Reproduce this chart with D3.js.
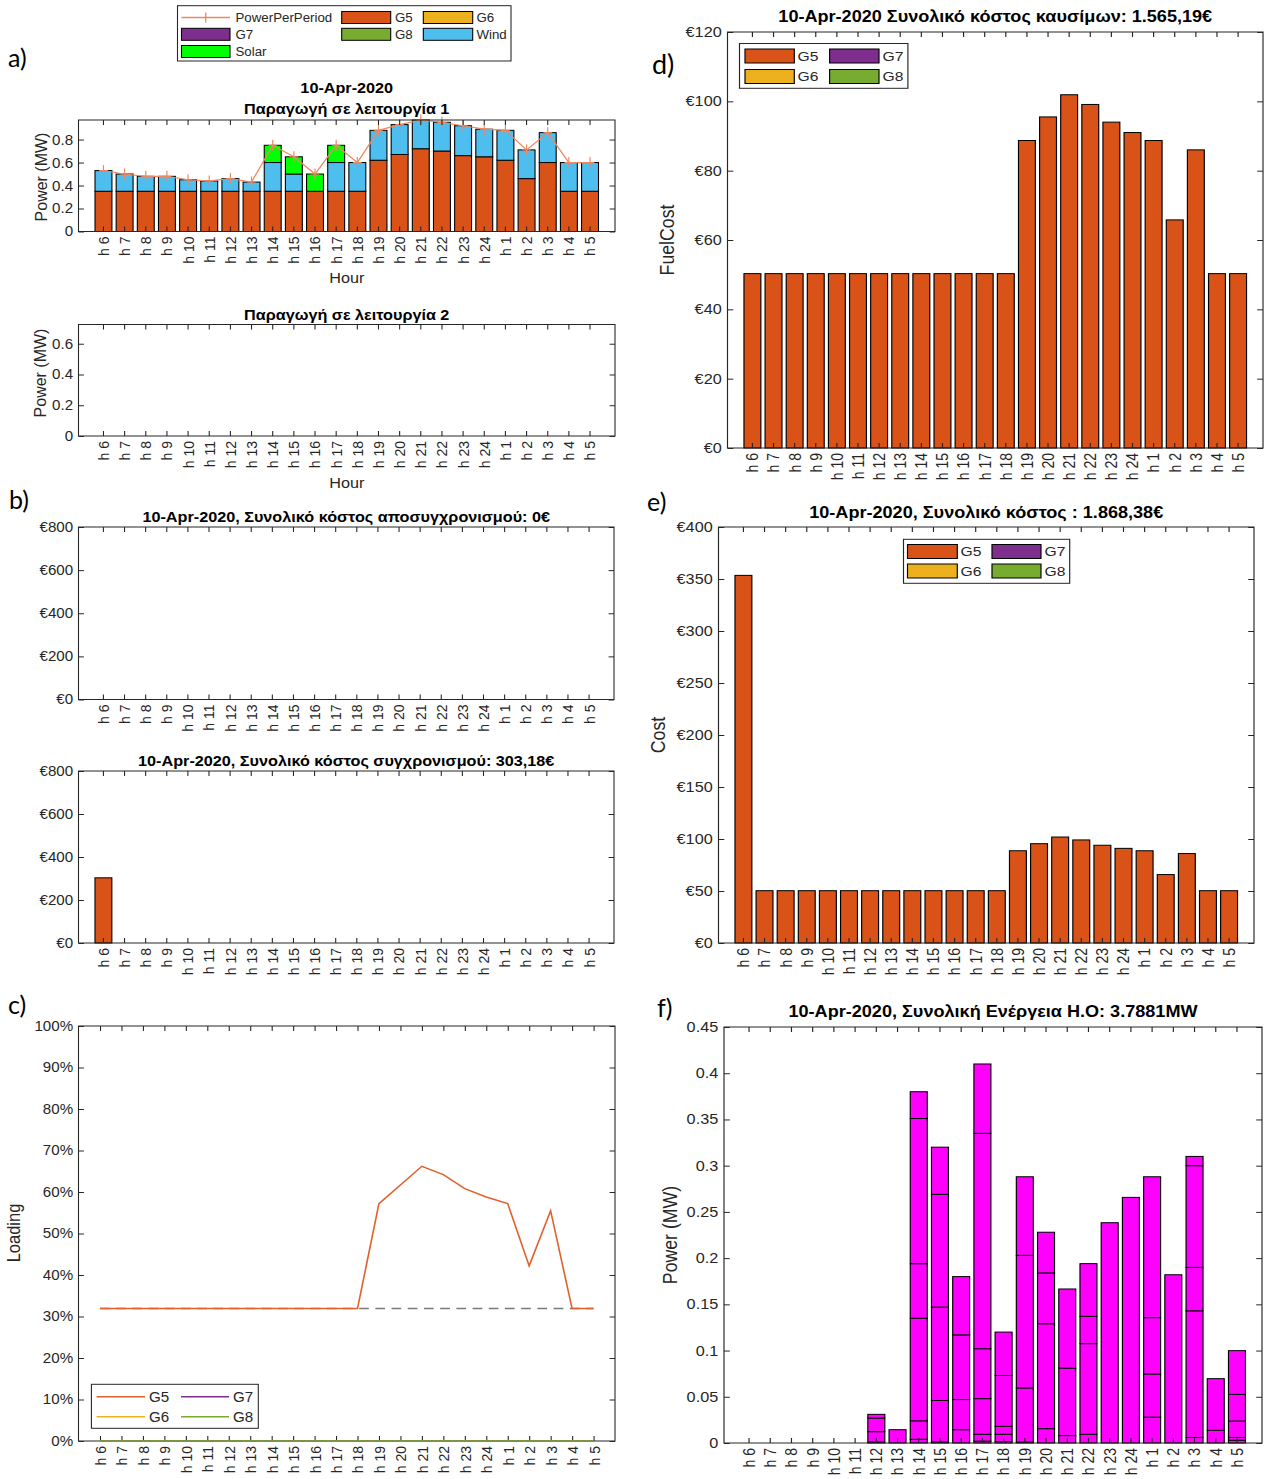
<!DOCTYPE html>
<html><head><meta charset="utf-8">
<script src="https://cdn.jsdelivr.net/npm/d3@7"></script>
<style>
body{margin:0;background:#fff;}
svg text{font-family:"Liberation Sans",Arial,sans-serif;}
</style></head>
<body><svg id="fig" width="1266" height="1479"></svg>
<script>
// ---- categories ----
const hours = ["h 6","h 7","h 8","h 9","h 10","h 11","h 12","h 13","h 14","h 15","h 16","h 17","h 18","h 19","h 20","h 21","h 22","h 23","h 24","h 1","h 2","h 3","h 4","h 5"];

// ---- a) production in operating mode 1 (MW) ----
const g5Power    = [0.35,0.35,0.35,0.35,0.35,0.35,0.35,0.35,0.35,0.35,0.35,0.35,0.35,0.62,0.67,0.72,0.70,0.66,0.65,0.62,0.46,0.60,0.35,0.35];
const g6Power    = new Array(24).fill(0);
const g7Power    = new Array(24).fill(0);
const g8Power    = new Array(24).fill(0);
const windPower  = [0.18,0.15,0.13,0.13,0.10,0.09,0.11,0.08,0.25,0.15,0.00,0.25,0.25,0.26,0.26,0.25,0.25,0.26,0.24,0.26,0.25,0.26,0.25,0.25];
const solarPower = [0,0,0,0,0,0,0,0,0.15,0.15,0.15,0.15,0,0,0,0,0,0,0,0,0,0,0,0];
const powerPerPeriod = [0.53,0.50,0.48,0.48,0.45,0.44,0.46,0.43,0.75,0.65,0.50,0.75,0.60,0.88,0.93,0.97,0.95,0.92,0.89,0.88,0.71,0.86,0.60,0.60];

// ---- b) shutdown / start-up cost (EUR) ----
const shutdownCost = new Array(24).fill(0);
const startupCost  = [303.18,0,0,0,0,0,0,0,0,0,0,0,0,0,0,0,0,0,0,0,0,0,0,0];

// ---- c) loading of G5 (%) ----
const g5Loading  = [31.9,31.9,31.9,31.9,31.9,31.9,31.9,31.9,31.9,31.9,31.9,31.9,31.9,57.2,61.7,66.2,64.2,60.8,58.8,57.2,42.2,55.5,31.9,31.9];
const otherLoading = new Array(24).fill(0);
const minLoading = 31.9;

// ---- d) fuel cost (EUR) ----
const fuelCost  = [50.3,50.3,50.3,50.3,50.3,50.3,50.3,50.3,50.3,50.3,50.3,50.3,50.3,88.7,95.5,101.9,99.1,94.0,91.0,88.7,65.8,86.0,50.3,50.3];

// ---- e) total cost (EUR) ----
const totalCost = [353.48,50.3,50.3,50.3,50.3,50.3,50.3,50.3,50.3,50.3,50.3,50.3,50.3,88.7,95.5,101.9,99.1,94.0,91.0,88.7,65.8,86.0,50.3,50.3];

// ---- f) flexible-load energy per hour, stacked by load (MW) ----
const hoLoads = [
  [],[],[],[],[],[],
  [0.001,0.0113,0.0147,0.004],
  [0.0144],
  [0.004,0.020,0.111,0.059,0.157,0.029],
  [0.001,0.045,0.101,0.122,0.051],
  [0.0144,0.0326,0.070,0.063],
  [0.002,0.0074,0.0386,0.054,0.233,0.075],
  [0.0015,0.0079,0.0086,0.055,0.047],
  [0.001,0.0585,0.1435,0.085],
  [0.0155,0.1135,0.055,0.044],
  [0.008,0.073,0.0856],
  [0.0094,0.0981,0.0295,0.057],
  [0.2383],
  [0.2657],
  [0.028,0.0466,0.061,0.1524],
  [0.182],
  [0.006,0.137,0.047,0.110,0.010],
  [0.0137,0.0559],
  [0.003,0.003,0.0178,0.0288,0.0473]
];

// ---- tick labels ----
const powerTicksA1 = [0,0.2,0.4,0.6,0.8];
const powerTicksA2 = [0,0.2,0.4,0.6];
const euroTicks800 = [0,200,400,600,800];
const euroTicks120 = [0,20,40,60,80,100,120];
const euroTicks400 = [0,50,100,150,200,250,300,350,400];
const pctTicks     = [0,10,20,30,40,50,60,70,80,90,100];
const powerTicksF  = [0,0.05,0.1,0.15,0.2,0.25,0.3,0.35,0.4,0.45];

// ---- colours ----
const C = {G5:"#D95319", G6:"#EDB120", G7:"#7E2F8E", G8:"#77AC30", Wind:"#4DBEEE", Solar:"#00FF00", PPP:"#F0875F", HO:"#FF00FF", axis:"#262626"};

const svg = d3.select("#fig");
const TL = 5;

function makePanel(p) {
  const g = svg.append("g").attr("transform", `translate(${p.x0},${p.y0}) scale(${p.sx},1)`);
  const iw = p.w / p.sx, ih = p.h;
  const y = d3.scaleLinear().domain(p.yDomain).range([ih, 0]);
  const x = p.line
    ? d3.scalePoint().domain(hours).range([0, iw]).padding(1)
    : d3.scaleBand().domain(hours).range([0, iw]).paddingInner(0.2).paddingOuter(0.78);
  return {g, x, y, iw, ih, p};
}
const ix = (P, px) => (px - P.p.x0) / P.p.sx;
const iy = (P, py) => py - P.p.y0;

function drawAxes(P) {
  const {g, x, y, iw, ih, p} = P;
  const strip = s => s.select(".domain").remove();
  const bx = g.append("g").attr("transform", `translate(0,${ih})`).attr("color", C.axis)
    .call(d3.axisBottom(x).tickSizeInner(-TL).tickSizeOuter(0)).call(strip);
  bx.selectAll("text").attr("transform", "rotate(-90)").attr("text-anchor", "end")
    .attr("x", -5).attr("y", 0).attr("dy", "0.36em")
    .style("font-size", p.tickFont + "px").style("font-family", "Liberation Sans, Arial, sans-serif").attr("fill", C.axis);
  g.append("g").attr("color", C.axis)
    .call(d3.axisTop(x).tickSizeInner(-TL).tickSizeOuter(0).tickFormat(() => "")).call(strip);
  const ly = g.append("g").attr("color", C.axis)
    .call(d3.axisLeft(y).tickValues(p.yTicks).tickFormat(p.yFmt).tickSizeInner(-TL).tickSizeOuter(0).tickPadding(5)).call(strip);
  ly.selectAll("text").style("font-size", p.tickFont + "px").style("font-family", "Liberation Sans, Arial, sans-serif").attr("fill", C.axis);
  g.append("g").attr("transform", `translate(${iw},0)`).attr("color", C.axis)
    .call(d3.axisRight(y).tickValues(p.yTicks).tickSizeInner(-TL).tickSizeOuter(0).tickFormat(() => "")).call(strip);
  g.append("rect").attr("width", iw).attr("height", ih).attr("fill", "none").attr("stroke", C.axis).attr("stroke-width", 1);
}

function titles(P, lines) {
  lines.forEach(l => P.g.append("text").attr("x", P.iw / 2).attr("y", iy(P, l.y)).attr("text-anchor", "middle")
    .style("font-size", l.size + "px").style("font-weight", "bold").attr("fill", "#000").text(l.text));
}
function ylabel(P, text, px, py, size) {
  P.g.append("text").attr("transform", `translate(${ix(P, px)},${iy(P, py)}) rotate(-90)`)
    .attr("text-anchor", "middle").attr("dy", "0.35em").style("font-size", size + "px").attr("fill", C.axis).text(text);
}
function xlabel(P, text, py, size) {
  P.g.append("text").attr("x", P.iw / 2).attr("y", iy(P, py)).attr("text-anchor", "middle")
    .style("font-size", size + "px").attr("fill", C.axis).text(text);
}
function legend(P, box, items, font) {
  const g = P.g;
  g.append("rect").attr("x", ix(P, box[0])).attr("y", iy(P, box[1]))
    .attr("width", (box[2] - box[0]) / P.p.sx).attr("height", box[3] - box[1])
    .attr("fill", "#fff").attr("stroke", C.axis).attr("stroke-width", 1);
  items.forEach(it => {
    const x1 = ix(P, it.x1), x2 = ix(P, it.x2), cy = iy(P, it.cy);
    if (it.type === "rect") {
      g.append("rect").attr("x", x1).attr("y", cy - it.hh).attr("width", x2 - x1).attr("height", 2 * it.hh)
        .attr("fill", it.color).attr("stroke", "#000").attr("stroke-width", 1);
    } else {
      g.append("line").attr("x1", x1).attr("x2", x2).attr("y1", cy).attr("y2", cy)
        .attr("stroke", it.color).attr("stroke-width", 1.5);
      if (it.plus) g.append("line").attr("x1", (x1 + x2) / 2).attr("x2", (x1 + x2) / 2)
        .attr("y1", cy - 5).attr("y2", cy + 5).attr("stroke", it.color).attr("stroke-width", 1.2);
    }
    g.append("text").attr("x", ix(P, it.tx)).attr("y", cy).attr("dy", "0.35em")
      .style("font-size", font + "px").attr("fill", C.axis).text(it.label);
  });
}
function stackedBars(P, layers) {
  const {g, x, y} = P;
  const base = new Array(24).fill(0);
  layers.forEach(L => {
    L.values.forEach((v, i) => {
      if (v > 0) {
        g.append("rect").attr("x", x(hours[i])).attr("width", x.bandwidth())
          .attr("y", y(base[i] + v)).attr("height", y(base[i]) - y(base[i] + v))
          .attr("fill", L.color).attr("stroke", "#000").attr("stroke-width", 1);
      }
      base[i] += v;
    });
  });
}
function panelLabel(text, px, py, size) {
  svg.append("text").attr("x", px).attr("y", py).style("font-family", "Lato, 'Open Sans', sans-serif")
    .style("font-size", size + "px").attr("fill", "#000").text(text);
}

const euro = d => "€" + d;
const num = d => d3.format("~g")(d);

// ===== a) operating mode 1 =====
const A1 = makePanel({x0: 78.5, y0: 120, w: 536.5, h: 111.5, sx: 1.08, yDomain: [0, 0.97], yTicks: powerTicksA1, yFmt: num, tickFont: 14});
stackedBars(A1, [
  {values: g5Power, color: C.G5}, {values: g6Power, color: C.G6}, {values: g7Power, color: C.G7},
  {values: g8Power, color: C.G8}, {values: windPower, color: C.Wind}, {values: solarPower, color: C.Solar}
]);
{
  const cx = d => A1.x(d) + A1.x.bandwidth() / 2;
  A1.g.append("path").datum(powerPerPeriod)
    .attr("d", d3.line().x((d, i) => cx(hours[i])).y(d => A1.y(d)))
    .attr("fill", "none").attr("stroke", C.PPP).attr("stroke-width", 1.2);
  powerPerPeriod.forEach((v, i) => {
    const xx = cx(hours[i]), yy = A1.y(v);
    A1.g.append("line").attr("x1", xx - 4).attr("x2", xx + 4).attr("y1", yy).attr("y2", yy).attr("stroke", C.PPP).attr("stroke-width", 1.1);
    A1.g.append("line").attr("x1", xx).attr("x2", xx).attr("y1", yy - 5.5).attr("y2", yy + 5.5).attr("stroke", C.PPP).attr("stroke-width", 1.1);
  });
}
drawAxes(A1);
titles(A1, [{text: "10-Apr-2020", y: 93, size: 15}, {text: "Παραγωγή σε λειτουργία 1", y: 114, size: 15}]);
ylabel(A1, "Power (MW)", 41, 177, 16);
xlabel(A1, "Hour", 283, 15);
legend(A1, [177.5, 5.7, 511, 61], [
  {type: "line", plus: true, color: C.PPP, label: "PowerPerPeriod", x1: 181.5, x2: 230, cy: 17.5, tx: 235.5},
  {type: "rect", color: C.G5, label: "G5", x1: 341.7, x2: 390.7, cy: 17.5, tx: 395, hh: 6},
  {type: "rect", color: C.G6, label: "G6", x1: 423.3, x2: 472.7, cy: 17.5, tx: 476.5, hh: 6},
  {type: "rect", color: C.G7, label: "G7", x1: 181.5, x2: 230, cy: 34.3, tx: 235.5, hh: 6},
  {type: "rect", color: C.G8, label: "G8", x1: 341.7, x2: 390.7, cy: 34.3, tx: 395, hh: 6},
  {type: "rect", color: C.Wind, label: "Wind", x1: 423.3, x2: 472.7, cy: 34.3, tx: 476.5, hh: 6},
  {type: "rect", color: C.Solar, label: "Solar", x1: 181.5, x2: 230, cy: 51.5, tx: 235.5, hh: 6}
], 12.3);

// ===== a) operating mode 2 (no production) =====
const A2 = makePanel({x0: 78.5, y0: 324.5, w: 536.5, h: 111.5, sx: 1.08, yDomain: [0, 0.725], yTicks: powerTicksA2, yFmt: num, tickFont: 14});
drawAxes(A2);
titles(A2, [{text: "Παραγωγή σε λειτουργία 2", y: 320, size: 15}]);
ylabel(A2, "Power (MW)", 40, 373, 16);
xlabel(A2, "Hour", 488, 15);

// ===== b) shutdown cost =====
const B1 = makePanel({x0: 78.5, y0: 527, w: 535.5, h: 172.5, sx: 1.08, yDomain: [0, 800], yTicks: euroTicks800, yFmt: euro, tickFont: 14});
stackedBars(B1, [{values: shutdownCost, color: C.G5}]);
drawAxes(B1);
titles(B1, [{text: "10-Apr-2020, Συνολικό κόστος αποσυγχρονισμού: 0€", y: 521.5, size: 15}]);

// ===== b) start-up cost =====
const B2 = makePanel({x0: 78.5, y0: 771, w: 535.5, h: 172, sx: 1.08, yDomain: [0, 800], yTicks: euroTicks800, yFmt: euro, tickFont: 14});
stackedBars(B2, [{values: startupCost, color: C.G5}]);
drawAxes(B2);
titles(B2, [{text: "10-Apr-2020, Συνολικό κόστος συγχρονισμού: 303,18€", y: 766, size: 15}]);

// ===== c) loading =====
const Cp = makePanel({x0: 78.5, y0: 1026, w: 536.5, h: 415, sx: 1.08, line: true, yDomain: [0, 100], yTicks: pctTicks, yFmt: d => d + "%", tickFont: 14});
drawAxes(Cp);
{
  const ln = d3.line().x((d, i) => Cp.x(hours[i])).y(d => Cp.y(d));
  Cp.g.append("path").datum(hours.map(() => minLoading)).attr("d", ln)
    .attr("fill", "none").attr("stroke", "#7a7a7a").attr("stroke-width", 1.5).attr("stroke-dasharray", "9,6");
  Cp.g.append("path").datum(g5Loading).attr("d", ln).attr("fill", "none").attr("stroke", "#E0622A").attr("stroke-width", 1.5);
  [C.G6, C.G7, C.G8].forEach(col =>
    Cp.g.append("path").datum(otherLoading).attr("d", ln).attr("fill", "none").attr("stroke", col).attr("stroke-width", 1.5));
}
ylabel(Cp, "Loading", 14, 1233, 16.5);
legend(Cp, [91.4, 1384.3, 258.3, 1428.3], [
  {type: "line", color: "#E0622A", label: "G5", x1: 96.6, x2: 145, cy: 1396.7, tx: 149},
  {type: "line", color: C.G7, label: "G7", x1: 181, x2: 229, cy: 1396.7, tx: 233},
  {type: "line", color: C.G6, label: "G6", x1: 96.6, x2: 145, cy: 1416.7, tx: 149},
  {type: "line", color: C.G8, label: "G8", x1: 181, x2: 229, cy: 1416.7, tx: 233}
], 14);

// ===== d) fuel cost =====
const D = makePanel({x0: 727.5, y0: 32, w: 535.5, h: 416, sx: 1.16, yDomain: [0, 120], yTicks: euroTicks120, yFmt: euro, tickFont: 14});
stackedBars(D, [{values: fuelCost, color: C.G5}]);
drawAxes(D);
titles(D, [{text: "10-Apr-2020 Συνολικό κόστος καυσίμων: 1.565,19€", y: 22, size: 15.6}]);
ylabel(D, "FuelCost", 667, 240, 17.7);
legend(D, [739.5, 43.5, 907.9, 88.3], [
  {type: "rect", color: C.G5, label: "G5", x1: 745, x2: 794.3, cy: 56, tx: 797.5, hh: 7},
  {type: "rect", color: C.G7, label: "G7", x1: 829.6, x2: 879, cy: 56, tx: 882.5, hh: 7},
  {type: "rect", color: C.G6, label: "G6", x1: 745, x2: 794.3, cy: 76.5, tx: 797.5, hh: 7},
  {type: "rect", color: C.G8, label: "G8", x1: 829.6, x2: 879, cy: 76.5, tx: 882.5, hh: 7}
], 13.5);

// ===== e) total cost =====
const E = makePanel({x0: 718.5, y0: 527, w: 535.5, h: 416, sx: 1.16, yDomain: [0, 400], yTicks: euroTicks400, yFmt: euro, tickFont: 14});
stackedBars(E, [{values: totalCost, color: C.G5}]);
drawAxes(E);
titles(E, [{text: "10-Apr-2020, Συνολικό κόστος : 1.868,38€", y: 518, size: 15.6}]);
ylabel(E, "Cost", 657.5, 735, 17.7);
legend(E, [903.5, 539.3, 1069.7, 583.3], [
  {type: "rect", color: C.G5, label: "G5", x1: 907.5, x2: 957.3, cy: 551.5, tx: 960.5, hh: 7},
  {type: "rect", color: C.G7, label: "G7", x1: 992, x2: 1041, cy: 551.5, tx: 1044.5, hh: 7},
  {type: "rect", color: C.G6, label: "G6", x1: 907.5, x2: 957.3, cy: 571, tx: 960.5, hh: 7},
  {type: "rect", color: C.G8, label: "G8", x1: 992, x2: 1041, cy: 571, tx: 1044.5, hh: 7}
], 13.5);

// ===== f) flexible-load energy =====
const F = makePanel({x0: 724, y0: 1027, w: 538, h: 416, sx: 1.16, yDomain: [0, 0.45], yTicks: powerTicksF, yFmt: num, tickFont: 14});
hoLoads.forEach((segs, i) => {
  let acc = 0;
  segs.forEach(v => {
    F.g.append("rect").attr("x", F.x(hours[i])).attr("width", F.x.bandwidth())
      .attr("y", F.y(acc + v)).attr("height", F.y(acc) - F.y(acc + v))
      .attr("fill", C.HO).attr("stroke", "#000").attr("stroke-width", 1);
    acc += v;
  });
});
drawAxes(F);
titles(F, [{text: "10-Apr-2020, Συνολική Ενέργεια Η.Ο: 3.7881MW", y: 1017, size: 15.6}]);
ylabel(F, "Power (MW)", 670, 1235, 17.7);

// ===== panel letters =====
panelLabel("a)", 8, 67, 25);
panelLabel("b)", 9, 509, 25);
panelLabel("c)", 8, 1014, 25);
panelLabel("d)", 652, 74, 27);
panelLabel("e)", 647, 511, 25);
panelLabel("f)", 657, 1017, 25);
</script>
</body></html>
